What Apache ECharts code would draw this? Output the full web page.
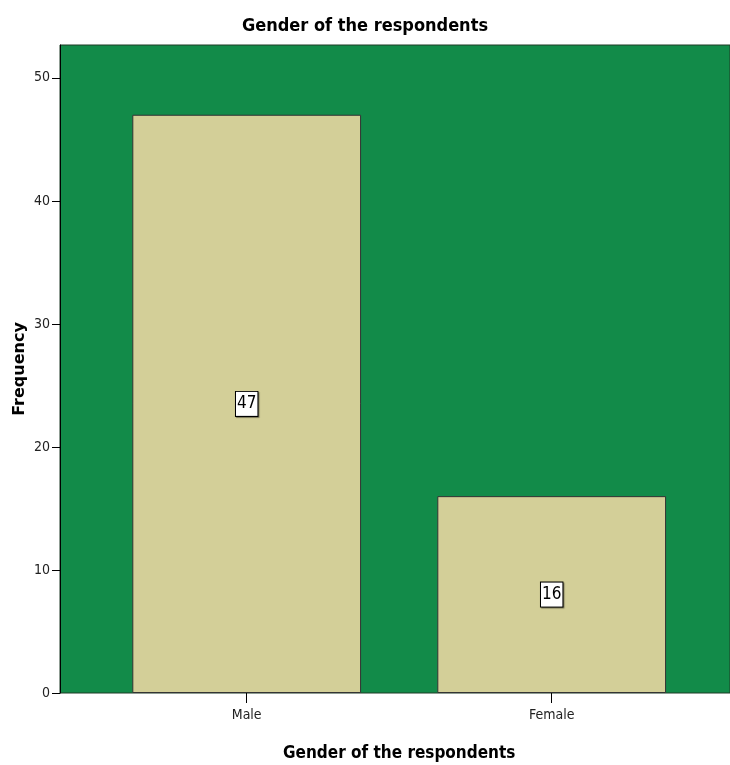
<!DOCTYPE html>
<html>
<head>
<meta charset="utf-8">
<script src="https://cdn.jsdelivr.net/npm/echarts@6/dist/echarts.min.js"></script>
<style>html,body{margin:0;padding:0;background:#fff}#c{width:730px;height:765px}</style>
</head>
<body>
<div id="c"></div>
<script>
const categories = ['Male', 'Female'];
const frequency = [47, 16];
const chartTitle = 'Gender of the respondents';
const xName = 'Gender of the respondents';
const yName = 'Frequency';

const narrow = '"Liberation Sans Narrow", "DejaVu Sans Condensed", "Liberation Sans", sans-serif';
const chart = echarts.init(document.getElementById('c'), null, {renderer: 'canvas'});
chart.setOption({
  animation: false,
  title: {
    text: chartTitle, left: 'center', top: 12,
    textStyle: {fontFamily: narrow, fontWeight: 'bold', fontSize: 18, color: '#000'}
  },
  grid: [
    {left: 60, right: 0, top: 45, bottom: 72, show: true, backgroundColor: '#128b49', borderColor: '#1e3a26', borderWidth: 1, outerBoundsMode: 'none', containLabel: false},
    {left: 94.2, right: 25.8, top: 45, bottom: 72, outerBoundsMode: 'none', containLabel: false}
  ],
  xAxis: [
    {gridIndex: 0, type: 'value', show: false},
    {
      gridIndex: 1, type: 'category', data: categories,
      name: xName, nameLocation: 'middle', nameGap: 52,
      nameTextStyle: {fontFamily: narrow, fontWeight: 'bold', fontSize: 17, color: '#000'},
      axisLine: {show: false},
      axisTick: {show: true, alignWithLabel: true, length: 10, lineStyle: {color: '#000'}},
      axisLabel: {fontFamily: narrow, fontSize: 14, color: '#222', margin: 15}
    }
  ],
  yAxis: [
    {gridIndex: 0, type: 'value', show: false},
    {
      gridIndex: 1, type: 'value', min: 0, max: 52.67, interval: 10, offset: 34.2,
      name: yName, nameLocation: 'middle', nameGap: 32, nameMoveOverlap: false,
      nameTextStyle: {fontFamily: '"DejaVu Sans", sans-serif', fontWeight: 'bold', fontSize: 16, color: '#000'},
      axisLine: {show: true, lineStyle: {color: '#000'}},
      axisTick: {show: true, length: 8, lineStyle: {color: '#000'}},
      axisLabel: {fontFamily: narrow, fontSize: 14, color: '#222', margin: 10, showMaxLabel: false},
      splitLine: {show: false}
    }
  ],
  series: [{
    type: 'bar', xAxisIndex: 1, yAxisIndex: 1, data: frequency,
    barWidth: '75%',
    itemStyle: {color: '#d3cf98', borderColor: '#333', borderWidth: 1},
    label: {
      show: true, position: 'inside', fontFamily: narrow, fontSize: 17, color: '#000',
      backgroundColor: '#fff', borderColor: '#000', borderWidth: 1, padding: [4, 1, 3, 1],
      shadowColor: 'rgba(0,0,0,0.4)', shadowOffsetX: 1, shadowOffsetY: 1, shadowBlur: 1
    }
  }]
});
</script>
</body>
</html>
